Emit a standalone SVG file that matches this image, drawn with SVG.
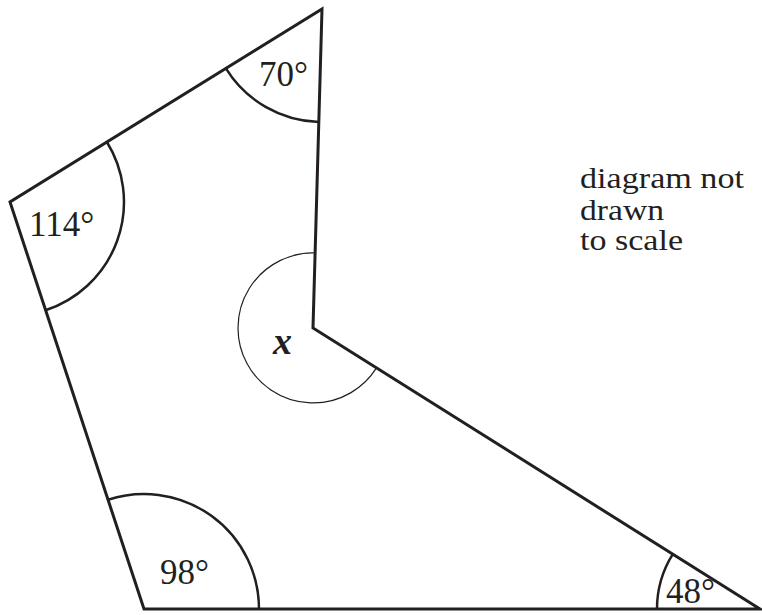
<svg xmlns="http://www.w3.org/2000/svg" width="762" height="615" viewBox="0 0 762 615">
<style>
.edge{fill:none;stroke:#231f20;stroke-width:3;stroke-linejoin:miter;stroke-linecap:butt}
.arc{fill:none;stroke:#231f20;stroke-width:2.5}
.thin{fill:none;stroke:#231f20;stroke-width:1.2}
text{font-family:'Times New Roman','Liberation Serif',Times,serif;fill:#231f20}
.lbl{font-size:35px}
.note{font-size:29px}
.var{font-size:38px;font-style:italic;font-weight:bold}
</style>
<rect width="762" height="615" fill="#ffffff"/>
<g id="connectors">
<path class="edge" d="M322,9 L313,328 L760,609 L144,609 L10,202 Z"/>
</g>
<g id="angle-top">
<path class="arc" d="M225.9,68.4 A113,113 0 0 0 318.8,122"/>
<text class="lbl" x="259" y="86">70°</text>
</g>
<g id="angle-left">
<path class="arc" d="M106.9,142 A114,114 0 0 1 45.6,310.3"/>
<text class="lbl" x="29" y="236">114°</text>
</g>
<g id="angle-bottom-left">
<path class="arc" d="M108,499.8 A115,115 0 0 1 259,609"/>
<text class="lbl" x="160" y="584">98°</text>
</g>
<g id="angle-bottom-right">
<path class="arc" d="M672.8,554.2 A103,103 0 0 0 657,609"/>
<text class="lbl" x="666" y="603">48°</text>
</g>
<g id="angle-x">
<path class="thin" d="M315.1,253 A75,75 0 1 0 376.5,367.9"/>
<text class="var" x="273" y="354">x</text>
</g>
<g id="note">
<text class="note" x="580" y="188" textLength="164" lengthAdjust="spacingAndGlyphs">diagram not</text>
<text class="note" x="580" y="220" textLength="84" lengthAdjust="spacingAndGlyphs">drawn</text>
<text class="note" x="580" y="250" textLength="103" lengthAdjust="spacingAndGlyphs">to scale</text>
</g>
</svg>
